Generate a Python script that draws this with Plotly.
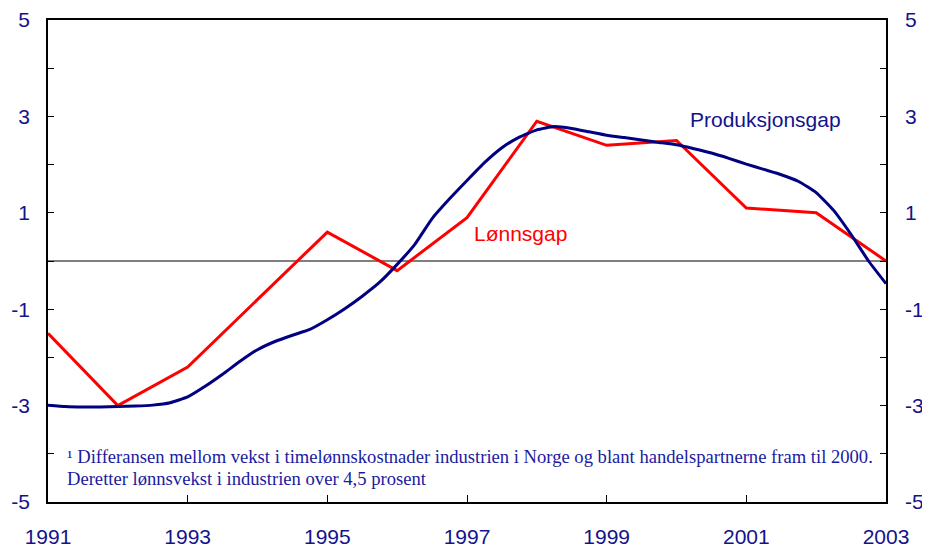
import plotly.graph_objects as go

# Lønnsgap (annual)
wage_years = [1991, 1992, 1993, 1994, 1995, 1996, 1997, 1998, 1999, 2000, 2001, 2002, 2003]
wage_gap = [-1.5, -3.0, -2.2, -0.8, 0.6, -0.2, 0.9, 2.9, 2.4, 2.5, 1.1, 1.0, 0.0]

# Produksjonsgap (quarterly)
prod_t = [1991.00, 1991.25, 1991.50, 1991.75,
          1992.00, 1992.25, 1992.50, 1992.75,
          1993.00, 1993.25, 1993.50, 1993.75,
          1994.00, 1994.25, 1994.50, 1994.75,
          1995.00, 1995.25, 1995.50, 1995.75,
          1996.00, 1996.25, 1996.50, 1996.75,
          1997.00, 1997.25, 1997.50, 1997.75,
          1998.00, 1998.25, 1998.50, 1998.75,
          1999.00, 1999.25, 1999.50, 1999.75,
          2000.00, 2000.25, 2000.50, 2000.75,
          2001.00, 2001.25, 2001.50, 2001.75,
          2002.00, 2002.25, 2002.50, 2002.75,
          2003.00]
prod_gap = [-2.99, -3.02, -3.03, -3.03,
            -3.02, -3.01, -2.99, -2.94,
            -2.82, -2.60, -2.35, -2.08,
            -1.84, -1.67, -1.54, -1.42,
            -1.22, -0.99, -0.73, -0.44,
            -0.07, 0.34, 0.88, 1.29,
            1.67, 2.04, 2.35, 2.57,
            2.72, 2.79, 2.75, 2.68,
            2.61, 2.56, 2.51, 2.46,
            2.41, 2.33, 2.24, 2.13,
            2.01, 1.90, 1.79, 1.65,
            1.42, 1.05, 0.55, 0.00,
            -0.47]

x_tickvals = [1991, 1993, 1995, 1997, 1999, 2001, 2003]
x_ticktext = ["1991", "1993", "1995", "1997", "1999", "2001", "2003"]
y_tickvals = [-5, -3, -1, 1, 3, 5]
y_ticktext = ["-5", "-3", "-1", "1", "3", "5"]

NAVY = "#000080"
TXT = "#13138c"

fig = go.Figure()
fig.add_trace(go.Scatter(x=[1991, 2003], y=[0, 0], mode="lines",
                         line=dict(color="black", width=1.2), hoverinfo="skip", showlegend=False))
fig.add_trace(go.Scatter(x=wage_years, y=wage_gap, mode="lines",
                         line=dict(color="#ff0000", width=3), name="Lønnsgap", showlegend=False))
fig.add_trace(go.Scatter(x=prod_t, y=prod_gap, mode="lines",
                         line=dict(color=NAVY, width=3, shape="spline", smoothing=0.4),
                         name="Produksjonsgap", showlegend=False))
fig.add_trace(go.Scatter(x=prod_t, y=prod_gap, yaxis="y2", mode="lines",
                         line=dict(color="rgba(0,0,0,0)", width=0), hoverinfo="skip", showlegend=False))

axis_font = dict(family="Liberation Sans, Arial", size=21, color=TXT)

fig.update_layout(
    width=930, height=549,
    margin=dict(l=40, r=52, t=12, b=55),
    paper_bgcolor="white", plot_bgcolor="white",
    xaxis=dict(range=[1991, 2003], tickvals=x_tickvals, ticktext=x_ticktext,
               ticks="inside", ticklen=7, tickcolor="black", tickwidth=1,
               showline=True, linecolor="black", linewidth=1.5, mirror=True,
               showgrid=False, zeroline=False, tickfont=axis_font,
               ticklabelstandoff=15, automargin=False),
    yaxis=dict(range=[-5, 5], tickvals=y_tickvals, ticktext=y_ticktext,
               ticks="inside", ticklen=6, tickcolor="black", tickwidth=1,
               minor=dict(dtick=1, tick0=0, ticks="inside", ticklen=6, tickcolor="black"),
               showline=True, linecolor="black", linewidth=1.5,
               showgrid=False, zeroline=False, tickfont=axis_font,
               ticklabelstandoff=12, automargin=False),
    yaxis2=dict(range=[-5, 5], tickvals=y_tickvals, ticktext=y_ticktext,
                overlaying="y", side="right",
                ticks="inside", ticklen=6, tickcolor="black", tickwidth=1,
                minor=dict(dtick=1, tick0=0, ticks="inside", ticklen=6, tickcolor="black"),
                showline=True, linecolor="black", linewidth=1.5,
                showgrid=False, zeroline=False, tickfont=axis_font,
                ticklabelstandoff=13, automargin=False),
)

fig.add_annotation(x=2001.28, y=2.93, text="Produksjonsgap", showarrow=False,
                   font=dict(family="Liberation Sans, Arial", size=21, color=TXT))
fig.add_annotation(x=1997.77, y=0.58, text="Lønnsgap", showarrow=False,
                   font=dict(family="Liberation Sans, Arial", size=21, color="#ff0000"))

foot_font = dict(family="Liberation Serif, Times New Roman", size=18.6, color="#1a1aa0")
fig.add_annotation(x=1991.24, y=-4.05, xanchor="left",
                   text="¹ Differansen mellom vekst i timelønnskostnader industrien i Norge og blant handelspartnerne fram til 2000.",
                   showarrow=False, font=foot_font)
fig.add_annotation(x=1991.24, y=-4.52, xanchor="left",
                   text="Deretter lønnsvekst i industrien over 4,5 prosent",
                   showarrow=False, font=foot_font)

fig.write_html("out.html")
